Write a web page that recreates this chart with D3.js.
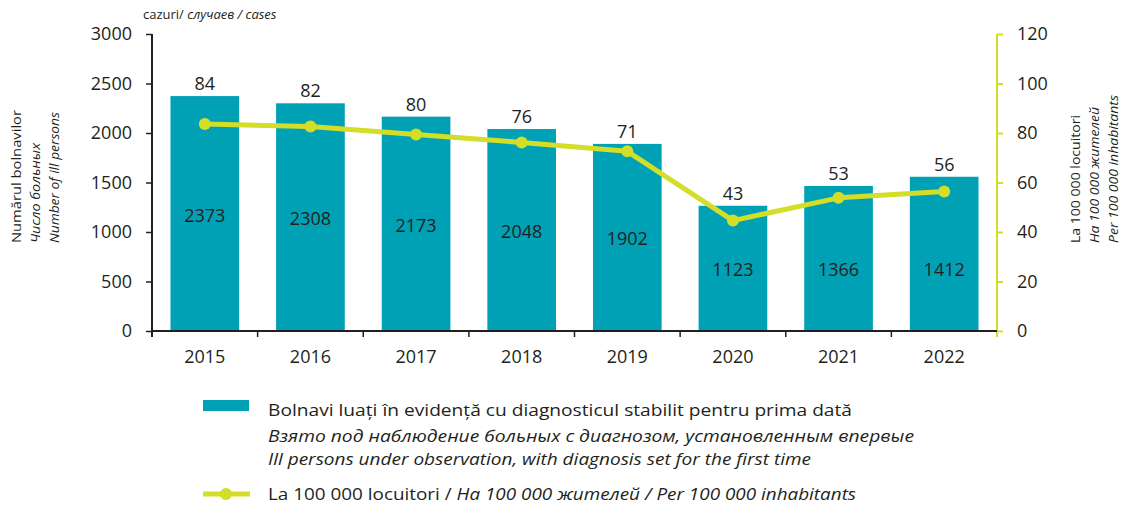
<!DOCTYPE html>
<html><head><meta charset="utf-8">
<script src="https://cdn.jsdelivr.net/npm/d3@7"></script>
<style>body{margin:0;background:#fff}svg{display:block}text{font-family:"Open Sans",sans-serif;fill:#231f20}</style>
</head><body>
<svg id="c" width="1131" height="507"></svg>
<script>
const years = ["2015","2016","2017","2018","2019","2020","2021","2022"];
const barValues = [2373, 2300, 2165, 2040, 1890, 1265, 1465, 1558];
const barLabels = ["2373","2308","2173","2048","1902","1123","1366","1412"];
const rateValues = [83.6, 82.6, 79.4, 76.2, 72.6, 44.6, 53.8, 56.4];
const rateLabels = ["84","82","80","76","71","43","53","56"];
const leftTicks = [0,500,1000,1500,2000,2500,3000];
const rightTicks = [0,20,40,60,80,100,120];

const TEAL = "#00a1b5", LIME = "#d2de27", DARK = "#231f20";
const svg = d3.select("#c");

const x = d3.scaleBand().domain(years).range([152, 997]).paddingInner(0.35).paddingOuter(0.175);
const yL = d3.scaleLinear().domain([0, 3000]).range([331, 34]);
const yR = d3.scaleLinear().domain([0, 120]).range([331, 34]);

// bars
svg.append("g").selectAll("rect").data(years).join("rect")
  .attr("x", d => x(d)).attr("width", x.bandwidth())
  .attr("y", (d,i) => yL(barValues[i])).attr("height", (d,i) => yL(0) - yL(barValues[i]))
  .attr("fill", TEAL);

// left axis
const gL = svg.append("g").attr("transform", "translate(152,0)")
  .call(d3.axisLeft(yL).tickValues(leftTicks).tickFormat(d3.format("d")).tickSize(6).tickPadding(14));
gL.select(".domain").remove();
gL.selectAll(".tick line").attr("stroke", DARK).attr("stroke-width", 1.5);
gL.selectAll(".tick text").style("font-size", "18px").attr("fill", DARK);
svg.append("line").attr("x1",152).attr("x2",152).attr("y1",yL(3000)).attr("y2",yL(0)+6).attr("stroke",DARK).attr("stroke-width",2);

// right axis
const gR = svg.append("g").attr("transform", "translate(997,0)")
  .call(d3.axisRight(yR).tickValues(rightTicks).tickFormat(d3.format("d")).tickSize(6).tickPadding(14));
gR.select(".domain").remove();
gR.selectAll(".tick line").attr("stroke", LIME).attr("stroke-width", 2);
gR.selectAll(".tick text").style("font-size", "18px").attr("fill", DARK);
svg.append("line").attr("x1",997).attr("x2",997).attr("y1",yR(120)).attr("y2",yR(0)+6).attr("stroke",LIME).attr("stroke-width",2);

// x axis baseline and boundary ticks
svg.append("line").attr("x1",152).attr("x2",997).attr("y1",yL(0)).attr("y2",yL(0)).attr("stroke",DARK).attr("stroke-width",2);
const bounds = d3.range(years.length + 1).map(i => x.range()[0] + i * x.step());
svg.append("g").selectAll("line").data(bounds.slice(1, -1)).join("line")
  .attr("x1", d => d).attr("x2", d => d).attr("y1", yL(0)).attr("y2", yL(0) + 6)
  .attr("stroke", DARK).attr("stroke-width", 1.5);
svg.append("g").selectAll("text").data(years).join("text")
  .attr("x", d => x(d) + x.bandwidth()/2).attr("y", 363)
  .attr("text-anchor","middle").style("font-size","18px").text(d => d);

// line
const cx = d => x(d) + x.bandwidth()/2;
svg.append("path").datum(years)
  .attr("d", d3.line().x(d => cx(d)).y((d,i) => yR(rateValues[i])))
  .attr("fill","none").attr("stroke",LIME).attr("stroke-width",5).attr("stroke-linejoin","round");
svg.append("g").selectAll("circle").data(years).join("circle")
  .attr("cx", d => cx(d)).attr("cy", (d,i) => yR(rateValues[i])).attr("r", 6).attr("fill", LIME);

// labels
svg.append("g").selectAll("text").data(years).join("text")
  .attr("x", d => cx(d)).attr("y", (d,i) => yL(barValues[i]) - 6)
  .attr("text-anchor","middle").style("font-size","18px").text((d,i) => rateLabels[i]);
svg.append("g").selectAll("text").data(years).join("text")
  .attr("x", d => cx(d)).attr("y", (d,i) => {
      const mid = (yL(barValues[i]) + yL(0)) / 2;
      return (mid > 250 ? 269 : mid + 1.5) + 6.5;
  })
  .attr("text-anchor","middle").style("font-size","18px").text((d,i) => barLabels[i]);

// top unit label
const unit = svg.append("text").attr("x",143).attr("y",19).style("font-size","13px");
unit.append("tspan").text("cazuri/ ");
unit.append("tspan").style("font-style","italic").text("случаев / cases");

// axis titles
function vtext(xb, yb, str, italic, len) {
  svg.append("text").attr("transform", `translate(${xb},${yb}) rotate(-90)`)
    .style("font-size","13px").style("font-style", italic ? "italic" : "normal")
    .attr("textLength", len).attr("lengthAdjust","spacingAndGlyphs").text(str);
}
vtext(21, 243, "Numărul bolnavilor", false, 133);
vtext(40, 243, "Число больных", true, 100);
vtext(59, 243, "Number of ill persons", true, 131);
vtext(1080, 243, "La 100 000 locuitori", false, 128);
vtext(1099, 243, "На 100 000 жителей", true, 136);
vtext(1118, 243, "Per 100 000 inhabitants", true, 148);

// legend
svg.append("rect").attr("x",203).attr("y",400).attr("width",46).attr("height",11).attr("fill",TEAL);
function ltext(y, str, italic, len) {
  svg.append("text").attr("x",268).attr("y",y).style("font-size","17px")
    .style("font-style", italic ? "italic" : "normal")
    .attr("textLength", len).attr("lengthAdjust","spacingAndGlyphs").text(str);
}
ltext(416, "Bolnavi luați în evidență cu diagnosticul stabilit pentru prima dată", false, 584);
ltext(442, "Взято под наблюдение больных с диагнозом, установленным впервые", true, 646);
ltext(465, "Ill persons under observation, with diagnosis set for the first time", true, 543);
svg.append("line").attr("x1",203).attr("x2",250).attr("y1",494).attr("y2",494).attr("stroke",LIME).attr("stroke-width",5);
svg.append("circle").attr("cx",226).attr("cy",494).attr("r",6).attr("fill",LIME);
const l2 = svg.append("text").attr("x",268).attr("y",500).style("font-size","17px")
  .attr("textLength",588).attr("lengthAdjust","spacingAndGlyphs");
l2.append("tspan").text("La 100 000 locuitori / ");
l2.append("tspan").style("font-style","italic").text("На 100 000 жителей / Per 100 000 inhabitants");
</script>
</body></html>
